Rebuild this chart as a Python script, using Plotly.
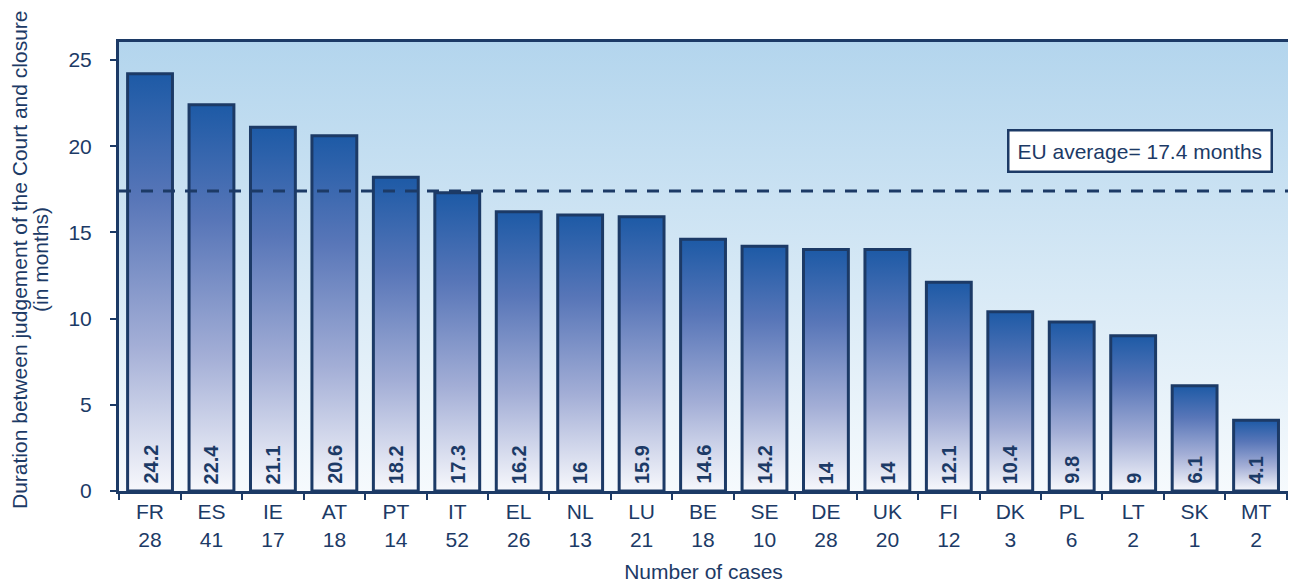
import base64
import plotly.graph_objects as go

countries = ["FR", "ES", "IE", "AT", "PT", "IT", "EL", "NL", "LU", "BE",
             "SE", "DE", "UK", "FI", "DK", "PL", "LT", "SK", "MT"]
cases = [28, 41, 17, 18, 14, 52, 26, 13, 21, 18, 10, 28, 20, 12, 3, 6, 2, 1, 2]
months = [24.2, 22.4, 21.1, 20.6, 18.2, 17.3, 16.2, 16, 15.9, 14.6,
          14.2, 14, 14, 12.1, 10.4, 9.8, 9, 6.1, 4.1]
eu_average = 17.4
y_title = ["Duration between judgement of the Court and closure", "(in months)"]

NAVY = "#1c3a66"
FONT = "Liberation Sans, Arial, sans-serif"
bar_w = 0.73
x_range = [-0.505, 18.52]

fig = go.Figure()

# each bar is a closed polygon so it can carry its own vertical gradient
for i, v in enumerate(months):
    x0, x1 = i - bar_w / 2, i + bar_w / 2
    fig.add_trace(go.Scatter(
        x=[x0, x0, x1, x1, x0], y=[0, v, v, 0, 0],
        mode="lines", fill="toself",
        fillgradient=dict(type="vertical",
                          colorscale=[[0, "#f7f8fc"], [0.35, "#a3aed6"],
                                      [0.7, "#5876b8"], [1, "#1d5aa6"]]),
        line=dict(color=NAVY, width=3),
        hoverinfo="skip", showlegend=False))

# EU average line
fig.add_trace(go.Scatter(
    x=x_range, y=[eu_average, eu_average], mode="lines",
    line=dict(color=NAVY, width=3, dash="12px,10px"),
    hoverinfo="skip", showlegend=False))

# value labels at the foot of each bar
for i, v in enumerate(months):
    fig.add_annotation(x=i, y=0, text=f"{v:g}", textangle=-90,
                       showarrow=False, yanchor="bottom", yshift=5,
                       font=dict(family=FONT, size=20, color=NAVY, weight="bold"))

fig.add_annotation(x=16.11, y=19.72, text=f"EU average= {eu_average} months",
                   showarrow=False, bgcolor="white", bordercolor=NAVY,
                   borderwidth=2.5, borderpad=8,
                   font=dict(family=FONT, size=21, color=NAVY))

# y title as two rotated lines, set a little tighter than plotly's line height
for line, xp in zip(y_title, [-0.0845, -0.0665]):
    fig.add_annotation(xref="paper", yref="paper", x=xp, y=0.515,
                       xanchor="center", yanchor="middle", text=line,
                       textangle=-90, showarrow=False,
                       font=dict(family=FONT, size=21, color=NAVY))

# light blue to white backdrop of the plot area
svg = ('<svg xmlns="http://www.w3.org/2000/svg" width="100" height="100" preserveAspectRatio="none">'
       '<defs><linearGradient id="g" x1="0" y1="0" x2="0" y2="1">'
       '<stop offset="0" stop-color="#b3d5ed"/><stop offset="1" stop-color="#f6fafd"/>'
       '</linearGradient></defs><rect width="100" height="100" fill="url(#g)"/></svg>')
fig.add_layout_image(source="data:image/svg+xml;base64," + base64.b64encode(svg.encode()).decode(),
                     xref="paper", yref="paper", x=0, y=1, sizex=1, sizey=1,
                     xanchor="left", yanchor="top", sizing="stretch", layer="below")

fig.update_xaxes(range=x_range, tickmode="array", automargin=False,
                 tickvals=list(range(len(countries))),
                 ticktext=[f"{c}<br>{n}" for c, n in zip(countries, cases)],
                 ticks="", showgrid=False, zeroline=False,
                 showline=True, linecolor=NAVY, linewidth=3, mirror=True,
                 tickfont=dict(family=FONT, size=21, color=NAVY),
                 title=dict(text="Number of cases", standoff=20,
                            font=dict(family=FONT, size=21, color=NAVY)))
fig.update_yaxes(range=[0, 26.04], tickvals=[0, 5, 10, 15, 20, 25],
                 ticks="outside", ticklen=6, tickcolor=NAVY, tickwidth=1.5,
                 ticklabelstandoff=14, automargin=False,
                 showgrid=False, zeroline=False,
                 showline=True, linecolor=NAVY, linewidth=3, mirror=True,
                 tickfont=dict(family=FONT, size=21, color=NAVY))

# small ticks between categories on the x axis
fig.update_xaxes(minor=dict(tickvals=[i + 0.5 for i in range(-1, len(countries))],
                            ticks="outside", ticklen=6, tickcolor=NAVY, tickwidth=1.5))

fig.update_layout(width=1280, height=575,
                  margin=dict(l=111, r=0, t=34, b=92),
                  paper_bgcolor="white", plot_bgcolor="rgba(0,0,0,0)",
                  font=dict(family=FONT, color=NAVY))

fig.write_html("out.html")
